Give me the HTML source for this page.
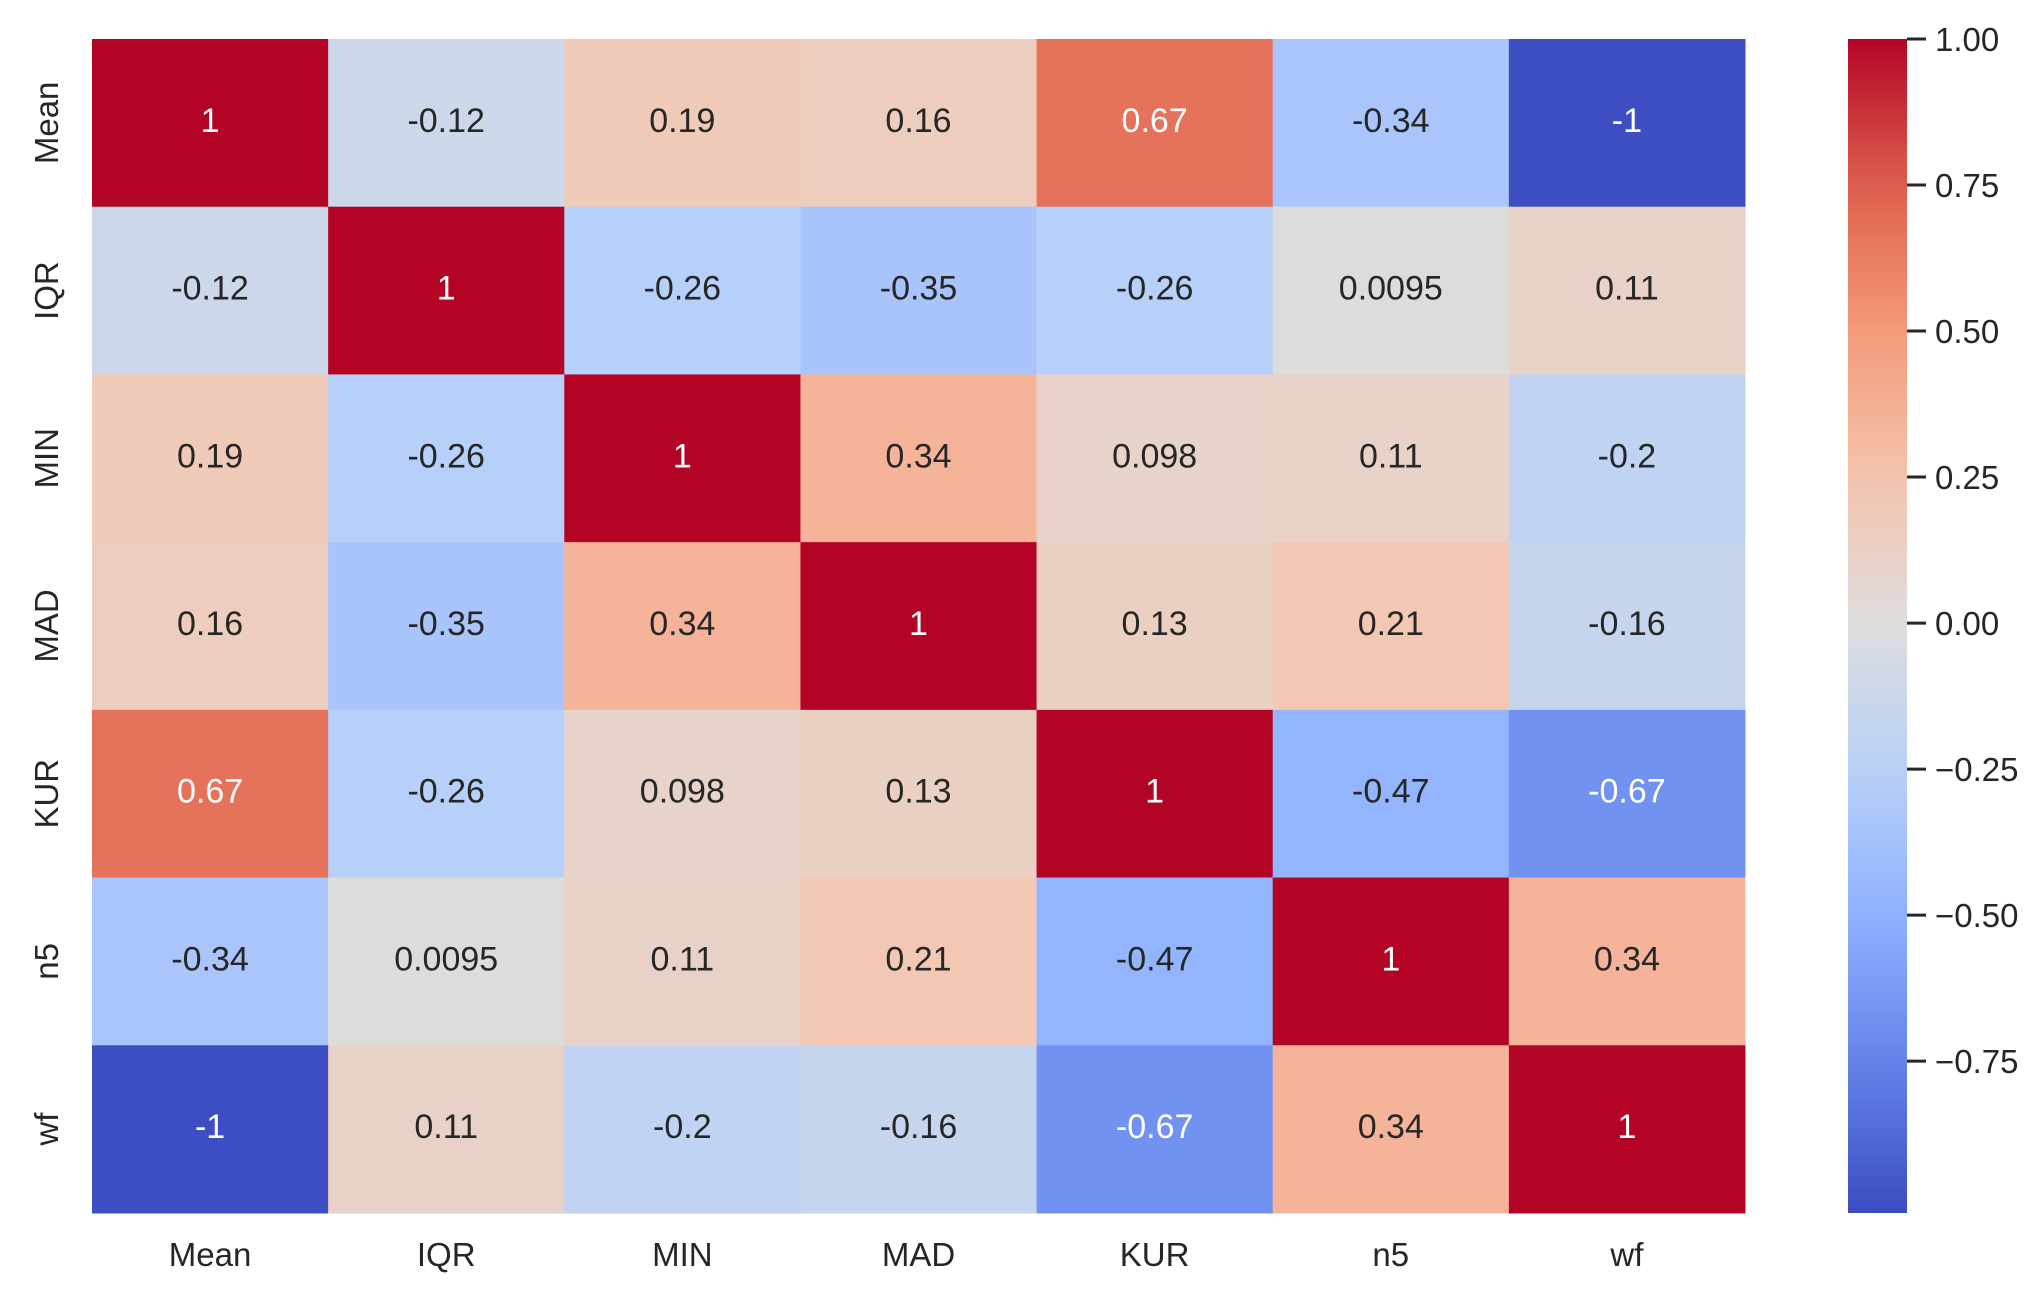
<!DOCTYPE html>
<html><head><meta charset="utf-8"><style>
html,body{margin:0;padding:0;background:#fff;}
svg text{font-family:"Liberation Sans",Arial,sans-serif;}
</style></head><body>
<svg id="chart" width="2044" height="1291" xmlns="http://www.w3.org/2000/svg">
<g id="cells"></g>
<g id="xlabels"></g>
<g id="ylabels"></g>
<defs><linearGradient id="cbgrad" x1="0" y1="1" x2="0" y2="0"></linearGradient></defs>
<g id="colorbar"></g>
</svg>
<script>
const categories = ["Mean","IQR","MIN","MAD","KUR","n5","wf"];
const rowMean = [1,-0.12,0.19,0.16,0.67,-0.34,-1];
const rowIQR  = [-0.12,1,-0.26,-0.35,-0.26,0.0095,0.11];
const rowMIN  = [0.19,-0.26,1,0.34,0.098,0.11,-0.2];
const rowMAD  = [0.16,-0.35,0.34,1,0.13,0.21,-0.16];
const rowKUR  = [0.67,-0.26,0.098,0.13,1,-0.47,-0.67];
const rowN5   = [-0.34,0.0095,0.11,0.21,-0.47,1,0.34];
const rowWF   = [-1,0.11,-0.2,-0.16,-0.67,0.34,1];
const matrix = [rowMean,rowIQR,rowMIN,rowMAD,rowKUR,rowN5,rowWF];
const cbTicks = [1.00,0.75,0.50,0.25,0.00,-0.25,-0.50,-0.75];
const vmin = -1.01, vmax = 1;

const NS="http://www.w3.org/2000/svg";
const L=92,T=39,R=1745,B=1213;
const cw=(R-L)/categories.length, ch=(B-T)/categories.length;
const stops=[[59,76,192],[98,130,234],[141,176,254],[184,208,249],[221,221,221],[245,196,173],[244,154,123],[222,96,77],[180,4,38]];
function cmap(v){let t=(v-vmin)/(vmax-vmin);t=Math.max(0,Math.min(1,t));const p=t*8,i=Math.min(7,Math.floor(p)),f=p-i;
const a=stops[i],b=stops[i+1];return a.map((c,k)=>Math.round(c+(b[k]-c)*f));}
function lum(c){const l=c.map(x=>{x/=255;return x<=0.03928?x/12.92:Math.pow((x+0.055)/1.055,2.4)});return 0.2126*l[0]+0.7152*l[1]+0.0722*l[2];}
function mk(tag,attrs,parent){const e=document.createElementNS(NS,tag);for(const k in attrs)e.setAttribute(k,attrs[k]);parent.appendChild(e);return e;}
function xPos(j){return L+j*cw;} function yPos(i){return T+i*ch;}
const cells=document.getElementById('cells');
matrix.forEach((row,i)=>row.forEach((v,j)=>{
 const c=cmap(v);
 const r=mk('rect',{x:xPos(j),y:yPos(i),width:cw+0.5,height:ch+0.5,fill:`rgb(${c})`},cells);
 
 
 const t=mk('text',{x:xPos(j)+cw/2,y:yPos(i)+ch/2+9,'text-anchor':'middle','font-size':34,fill:lum(c)>0.408?'#262626':'#ffffff'},cells);
 t.textContent=String(v);
 
 
}));
const xl=document.getElementById('xlabels'),yl=document.getElementById('ylabels');
categories.forEach((c,j)=>{
 const t=mk('text',{x:xPos(j)+cw/2,y:1266,'text-anchor':'middle','font-size':33,fill:'#262626'},xl);
 t.textContent=c;
 
 
 const cy=yPos(j)+ch/2;
 const u=mk('text',{x:58,y:cy,'text-anchor':'middle','font-size':33,fill:'#262626',transform:`rotate(-90 58 ${cy})`},yl);
 u.textContent=c;
 
 
});
const g=document.getElementById('cbgrad');
for(let k=0;k<=20;k++){const v=vmin+(vmax-vmin)*k/20;mk('stop',{offset:k/20,'stop-color':`rgb(${cmap(v)})`},g);}
const cb=document.getElementById('colorbar');
const CL=1848,CR=1907;
function cbY(v){return B-(v-vmin)/(vmax-vmin)*(B-T);}
const bar=mk('rect',{x:CL,y:T,width:CR-CL,height:B-T,fill:'url(#cbgrad)'},cb);


cbTicks.forEach(v=>{
 const y=cbY(v);
 mk('line',{x1:CR,x2:CR+19,y1:y,y2:y,stroke:'#262626','stroke-width':3},cb);
 const t=mk('text',{x:CR+28,y:y+12,'font-size':33,fill:'#262626'},cb);
 t.textContent=v.toFixed(2).replace('-','\u2212');
 
 
});
</script>
</body></html>
